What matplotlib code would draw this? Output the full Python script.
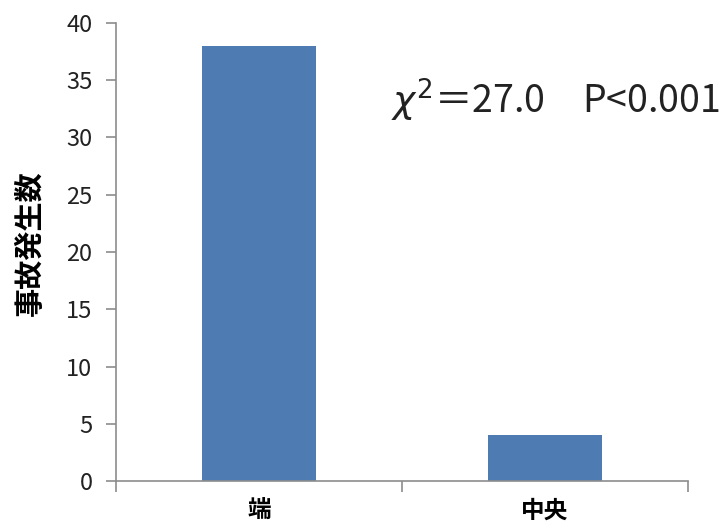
import matplotlib
matplotlib.use("Agg")
import matplotlib.pyplot as plt
import numpy as np

plt.rcParams['font.family'] = ['Noto Sans CJK JP', 'DejaVu Sans']
plt.rcParams['mathtext.fontset'] = 'dejavusans'

categories = ["端", "中央"]
counts = [38, 4]
ylabel = "事故発生数"
stat_text = r"$\chi^{2}$＝27.0　P<0.001"

bar_color = "#4F7BB3"
axis_color = "#8C8C8C"

fig = plt.figure(figsize=(7.26, 5.27), dpi=100)
ax = fig.add_axes([116/726, 1-481/527, (688-116)/726, (481-23)/527])

x = np.arange(len(categories))
ax.bar(x, counts, width=0.4, color=bar_color, zorder=2)

ax.set_xlim(-0.5, len(categories) - 0.5)
ax.set_ylim(0, 40)
ax.set_yticks(np.arange(0, 41, 5))

# category labels without ticks, ticks only on the category boundaries
ax.set_xticks(x)
ax.set_xticklabels(categories, fontsize=17, fontweight="bold")
ax.tick_params(axis="x", which="major", length=0, pad=13)
ax.set_xticks(np.arange(-0.5, len(categories), 1), minor=True)
ax.tick_params(axis="x", which="minor", length=8, color=axis_color, width=1.2)
ax.tick_params(axis="y", length=7, color=axis_color, width=1.2, labelsize=17,
               pad=10, labelcolor="#222222")

for spine in ["top", "right"]:
    ax.spines[spine].set_visible(False)
for spine in ["left", "bottom"]:
    ax.spines[spine].set_color(axis_color)
    ax.spines[spine].set_linewidth(1.2)

ax.set_ylabel(ylabel, fontsize=21, fontweight="bold")
ax.yaxis.set_label_coords(-0.125, 0.52)

ax.text(0.48, 0.83, stat_text, transform=ax.transAxes, fontsize=27,
        color="#222222", ha="left", va="center", clip_on=False)

fig.savefig("out.png", dpi=100)
